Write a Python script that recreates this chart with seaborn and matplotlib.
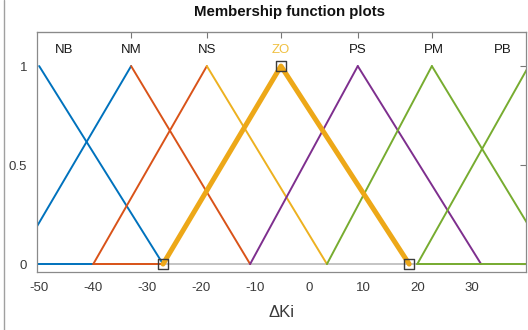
import matplotlib
matplotlib.use("Agg")
import matplotlib.pyplot as plt
from matplotlib.lines import Line2D
import pandas as pd
import seaborn as sns

# Fuzzy sets for the ΔKi input
mf_names = ["NB", "NM", "NS", "ZO", "PS", "PM", "PB"]
mf_peak = [-50.0, -33.0, -19.0, -5.3, 8.9, 22.6, 40.5]
mf_left_foot = [None, -54.5, -40.0, -27.1, -11.0, 3.2, 19.9]
mf_right_foot = [-27.1, -11.0, 3.2, 18.4, 31.7, 44.8, 61.0]
mf_label_x = [-45.4, -33.0, -19.0, -5.3, 8.9, 23.0, 35.7]

# Zero-level stretches of the outer sets
flat_start = [-50.4, -40.0, 19.9]
flat_end = [-40.0, -27.1, 40.0]

BLUE, ORANGE, YELLOW = "#0072BD", "#D95319", "#EDB120"
PURPLE, GREEN, ZO_COL = "#7E2F8E", "#77AC30", "#EDA818"
left_colors = [None, BLUE, ORANGE, ZO_COL, PURPLE, GREEN, GREEN]
right_colors = [BLUE, ORANGE, YELLOW, ZO_COL, PURPLE, GREEN, GREEN]
flat_colors = [BLUE, ORANGE, GREEN]
selected = "ZO"

sns.set_style("white")
plt.rcParams["font.family"] = ["Liberation Sans", "DejaVu Sans"]

fig = plt.figure(figsize=(5.28, 3.30), dpi=100)
ax = fig.add_axes([37 / 528, 1 - 272 / 330, 489 / 528, 240 / 330])

# Build one row per vertex of each side segment
rows = []
seg_colors = {}
for i, name in enumerate(mf_names):
    if name == selected:
        continue
    if mf_left_foot[i] is not None:
        sid = f"{name}_L"
        seg_colors[sid] = left_colors[i]
        rows += [(sid, mf_left_foot[i], 0.0), (sid, mf_peak[i], 1.0)]
    sid = f"{name}_R"
    seg_colors[sid] = right_colors[i]
    rows += [(sid, mf_peak[i], 1.0), (sid, mf_right_foot[i], 0.0)]
for j, (a, b) in enumerate(zip(flat_start, flat_end)):
    sid = f"flat{j}"
    seg_colors[sid] = flat_colors[j]
    rows += [(sid, a, 0.0), (sid, b, 0.0)]
segs = pd.DataFrame(rows, columns=["seg", "x", "mu"])

# grey zero level under everything
ax.axhline(0, color="#b4b4b4", lw=1.1, zorder=1)

sns.lineplot(data=segs, x="x", y="mu", hue="seg", units="seg", estimator=None,
             palette=seg_colors, legend=False, lw=1.4, sort=False, ax=ax, zorder=2)

# highlighted set
k = mf_names.index(selected)
zo = pd.DataFrame({"x": [mf_left_foot[k], mf_peak[k], mf_right_foot[k]],
                   "mu": [0.0, 1.0, 0.0]})
sns.lineplot(data=zo, x="x", y="mu", color=ZO_COL, lw=3.6, sort=False,
             estimator=None, ax=ax, zorder=3)
ax.scatter(zo["x"], zo["mu"], marker="s", s=48, facecolors="none",
           edgecolors="#3c3c3c", linewidths=1.0, zorder=4)

# set names
for i, name in enumerate(mf_names):
    ax.text(mf_label_x[i], 1.08, name, ha="center", va="center", fontsize=9.5,
            color="#F0C040" if name == selected else "#1a1a1a")

ax.set_xlim(-50.4, 40.0)
ax.set_ylim(-0.04, 1.172)
ax.set_xticks([-50, -40, -30, -20, -10, 0, 10, 20, 30, 40])
ax.set_xticklabels(["-50", "-40", "-30", "-20", "-10", "0", "10", "20", "30", ""])
ax.set_yticks([0, 0.5, 1])
ax.set_yticklabels(["0", "0.5", "1"])
ax.tick_params(axis="both", direction="in", length=4, width=0.8, color="#777777",
               labelsize=9.5, labelcolor="#3a3a3a", right=True, pad=7)
top = ax.secondary_xaxis("top")
top.set_xticks(mf_peak[1:6])
top.set_xticklabels([])
top.tick_params(direction="in", length=4, width=0.8, color="#777777")
top.spines["top"].set_color("#8a8a8a")
for s in ax.spines.values():
    s.set_color("#8a8a8a")
    s.set_linewidth(0.9)
ax.set_xlabel("ΔKi", fontsize=12, color="#3a3a3a", labelpad=8)
ax.set_ylabel("")

fig.text(290 / 528, 1 - 12 / 330, "Membership function plots", ha="center",
         va="center", fontsize=10.8, fontweight="bold", color="#111111")
fig.add_artist(Line2D([4 / 528, 4 / 528], [0, 1], color="#a0a0a0", lw=1.0))

fig.savefig("out.png", dpi=100, facecolor="white")
